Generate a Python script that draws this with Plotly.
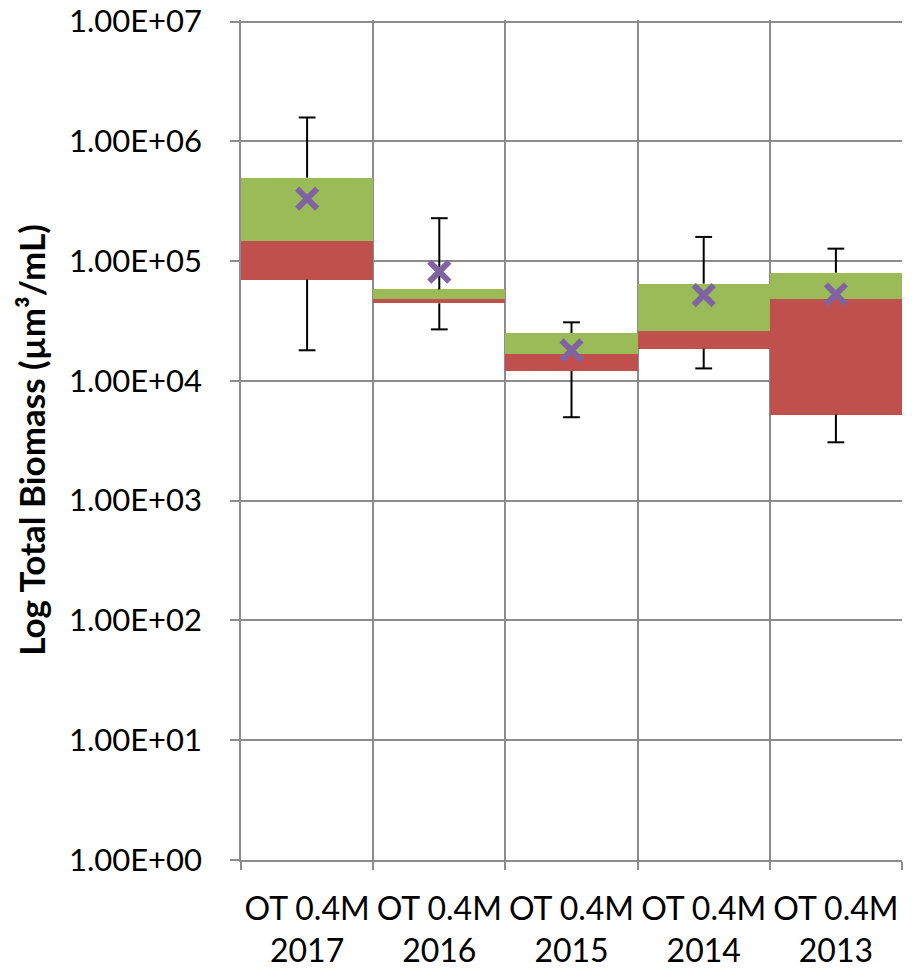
import plotly.graph_objects as go

categories = ["OT 0.4M<br>2017", "OT 0.4M<br>2016", "OT 0.4M<br>2015", "OT 0.4M<br>2014", "OT 0.4M<br>2013"]
q1 = [7.0e4, 4.44e4, 1.21e4, 1.86e4, 5.23e3]
median = [1.47e5, 4.8e4, 1.66e4, 2.63e4, 4.8e4]
q3 = [4.97e5, 5.8e4, 2.51e4, 6.48e4, 8.0e4]
whisker_min = [1.8e4, 2.69e4, 4.97e3, 1.27e4, 3.07e3]
whisker_max = [1.58e6, 2.28e5, 3.08e4, 1.59e5, 1.27e5]
mean = [3.32e5, 8.16e4, 1.80e4, 5.2e4, 5.28e4]
y_tick_vals = [1, 10, 100, 1000, 10000, 100000, 1000000, 10000000]
y_tick_text = ["1.00E+00", "1.00E+01", "1.00E+02", "1.00E+03", "1.00E+04", "1.00E+05", "1.00E+06", "1.00E+07"]

FONT = "Lato"
GREEN = "#9BBB59"
RED = "#C0504D"
PURPLE = "#8064A2"
GRID = "#8c8c8c"

fig = go.Figure()

# lower box (q1 -> median)
fig.add_trace(go.Bar(
    x=categories, base=q1, y=[m - a for m, a in zip(median, q1)],
    marker=dict(color=RED, line=dict(width=0)), width=1.0, showlegend=False,
))
# upper box (median -> q3)
fig.add_trace(go.Bar(
    x=categories, base=median, y=[b - m for b, m in zip(q3, median)],
    marker=dict(color=GREEN, line=dict(width=0)), width=1.0, showlegend=False,
))

# whisker lines
wx, wy = [], []
for c, lo, a, b, hi in zip(categories, whisker_min, q1, q3, whisker_max):
    wx += [c, c, None, c, c, None]
    wy += [b, hi, None, a, lo, None]
fig.add_trace(go.Scatter(x=wx, y=wy, mode="lines", line=dict(color="black", width=2),
                         showlegend=False, hoverinfo="skip"))
# whisker caps
fig.add_trace(go.Scatter(
    x=categories + categories, y=whisker_max + whisker_min, mode="markers",
    marker=dict(symbol="line-ew", size=12, line=dict(color="black", width=2)),
    showlegend=False,
))
# mean markers
fig.add_trace(go.Scatter(
    x=categories, y=mean, mode="markers",
    marker=dict(symbol="x-thin", size=20, line=dict(color=PURPLE, width=6)),
    showlegend=False,
))

fig.update_layout(
    width=912, height=970,
    margin=dict(l=233, r=18, t=11.5, b=118),
    paper_bgcolor="white", plot_bgcolor="white",
    barmode="overlay", bargap=0,
    font=dict(family=FONT, size=29, color="black"),
)
fig.update_xaxes(
    type="category", tickson="boundaries", showgrid=True, gridcolor=GRID, gridwidth=1.5,
    ticks="outside", ticklen=8, tickcolor=GRID, tickwidth=1.5,
    showline=True, linecolor=GRID, linewidth=1.5,
    tickfont=dict(family=FONT, size=32), ticklabelstandoff=20, tickangle=0,
    range=[-0.5, 4.5], automargin=False,
)
fig.update_yaxes(
    type="log", range=[0, 7.0125], tickvals=y_tick_vals, ticktext=y_tick_text,
    showgrid=True, gridcolor=GRID, gridwidth=1.5,
    ticks="outside", ticklen=9, tickcolor=GRID, tickwidth=1.5,
    showline=True, linecolor=GRID, linewidth=1.5,
    tickfont=dict(family=FONT, size=31), ticklabelstandoff=22, ticklabeloverflow="allow",
    title=dict(text="<b>Log Total Biomass (µm³/mL)</b>", font=dict(family=FONT, size=35), standoff=13),
    zeroline=False, automargin=False,
)

fig.write_html("out.html")
